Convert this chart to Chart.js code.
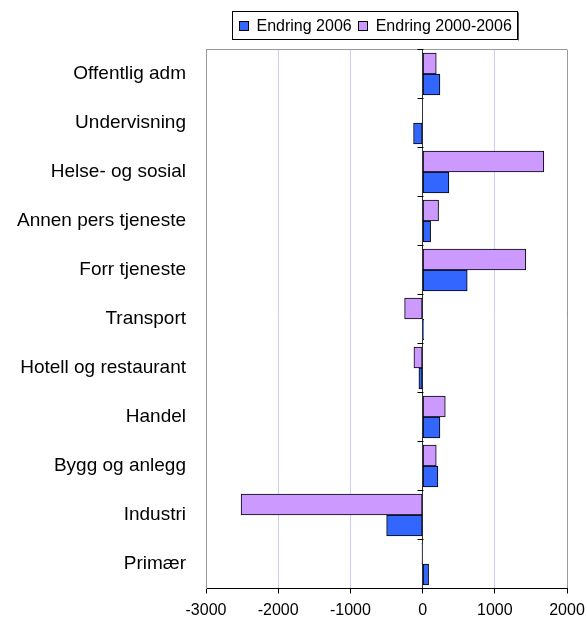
<!DOCTYPE html>
<html>
<head>
<meta charset="utf-8">
<script src="https://cdn.jsdelivr.net/npm/chart.js@4/dist/chart.umd.min.js"></script>
<style>
  html, body { margin: 0; padding: 0; background: #ffffff; }
  #wrap { width: 587px; height: 620px; }
</style>
</head>
<body>
<div id="wrap"><canvas id="c" width="587" height="620"></canvas></div>
<script>
const categories = ['Offentlig adm', 'Undervisning', 'Helse- og sosial', 'Annen pers tjeneste', 'Forr tjeneste', 'Transport', 'Hotell og restaurant', 'Handel', 'Bygg og anlegg', 'Industri', 'Primær'];
const endring2006 = [240, -125, 364, 111, 618, 15, -51, 240, 212, -498, 83];
const endring2000_2006 = [189, 0, 1679, 221, 1430, -249, -120, 314, 189, -2514, -10];
const seriesLabels = ['Endring 2006', 'Endring 2000-2006'];
const xMin = -3000, xMax = 2000, xStep = 1000;

const FONT = "'Liberation Sans', Arial, sans-serif";

const framePlugin = {
  id: 'frame',
  afterDraw(chart) {
    const ctx = chart.ctx;
    const a = chart.chartArea;
    const xs = chart.scales.x;
    ctx.save();
    ctx.strokeStyle = '#999999';
    ctx.lineWidth = 1;
    ctx.beginPath();
    ctx.moveTo(a.left, Math.floor(a.top) + 0.5);
    ctx.lineTo(a.right, Math.floor(a.top) + 0.5);
    ctx.stroke();
    const x0 = Math.round(xs.getPixelForValue(0)) + 0.5;
    const n = categories.length;
    ctx.strokeStyle = '#000000';
    for (let k = 0; k <= n; k++) {
      const y = Math.floor(a.top + k * (a.bottom - a.top) / n) + 0.5;
      ctx.beginPath();
      ctx.moveTo(x0 - 6, y);
      ctx.lineTo(x0, y);
      ctx.stroke();
    }
    const order = [1, 0];
    ctx.font = '16px ' + FONT;
    const box = 9, gapText = 9, gapItem = 6;
    const widths = order.map(i => ctx.measureText(chart.data.datasets[i].label).width);
    let total = 0;
    widths.forEach((w, j) => { total += box + gapText + w + (j < widths.length - 1 ? gapItem : 0); });
    const padX = 6;
    const rectW = Math.round(total + padX * 2);
    const rectX = Math.round(374.5 - rectW / 2) + 0.5;
    const rectY = 11.5, rectH = 28;
    ctx.fillStyle = '#ffffff';
    ctx.fillRect(rectX, rectY, rectW, rectH);
    ctx.strokeStyle = '#000000';
    ctx.strokeRect(rectX, rectY, rectW, rectH);
    ctx.strokeStyle = '#555555';
    ctx.beginPath();
    ctx.moveTo(rectX + rectW + 1, rectY + 1);
    ctx.lineTo(rectX + rectW + 1, rectY + rectH + 1);
    ctx.stroke();
    let x = rectX + padX;
    const cy = rectY + rectH / 2;
    order.forEach((i, j) => {
      const ds = chart.data.datasets[i];
      const bx = Math.round(x) + 0.5, by = Math.round(cy - box / 2) + 0.5;
      ctx.fillStyle = ds.backgroundColor;
      ctx.fillRect(bx, by, box, box);
      ctx.strokeStyle = '#000000';
      ctx.strokeRect(bx, by, box, box);
      ctx.fillStyle = '#000000';
      ctx.textBaseline = 'middle';
      ctx.textAlign = 'left';
      ctx.fillText(ds.label, x + box + gapText, cy + 1);
      x += box + gapText + widths[j] + gapItem;
    });
    ctx.restore();
  }
};

new Chart(document.getElementById('c'), {
  type: 'bar',
  data: {
    labels: categories,
    datasets: [
      {
        label: seriesLabels[1],
        data: endring2000_2006,
        backgroundColor: '#CC99FF',
        borderColor: '#000000',
        borderWidth: 1,
        borderSkipped: false,
        barThickness: 21
      },
      {
        label: seriesLabels[0],
        data: endring2006,
        backgroundColor: '#3366FF',
        borderColor: '#000000',
        borderWidth: 1,
        borderSkipped: false,
        barThickness: 21
      }
    ]
  },
  options: {
    indexAxis: 'y',
    responsive: false,
    animation: false,
    devicePixelRatio: 1,
    layout: { padding: { top: 49.5, right: 20, left: 0, bottom: 0 } },
    plugins: {
      legend: { display: false },
      tooltip: { enabled: false },
      title: { display: false }
    },
    scales: {
      x: {
        type: 'linear',
        min: xMin,
        max: xMax,
        ticks: {
          stepSize: xStep,
          color: '#000000',
          font: { family: FONT, size: 16 },
          padding: 7,
          maxRotation: 0,
          callback: (v) => String(v)
        },
        grid: {
          color: (c) => {
            const v = c.tick ? c.tick.value : null;
            if (v === 0) return '#333333';
            if (v === xMin || v === xMax) return '#999999';
            return '#CCCCFF';
          },
          lineWidth: 1,
          tickLength: 5,
          tickColor: '#000000'
        },
        border: { color: '#000000', width: 1 },
        afterFit(s) { s.height = 31.5; s.paddingRight = 0; s.paddingLeft = 0; }
      },
      y: {
        type: 'category',
        ticks: {
          color: '#000000',
          font: { family: FONT, size: 19 },
          padding: 20,
          autoSkip: false
        },
        grid: { display: false, drawTicks: false },
        border: { color: '#999999', width: 1 },
        afterFit(s) { s.width = 206; }
      }
    }
  },
  plugins: [framePlugin]
});
</script>
</body>
</html>
